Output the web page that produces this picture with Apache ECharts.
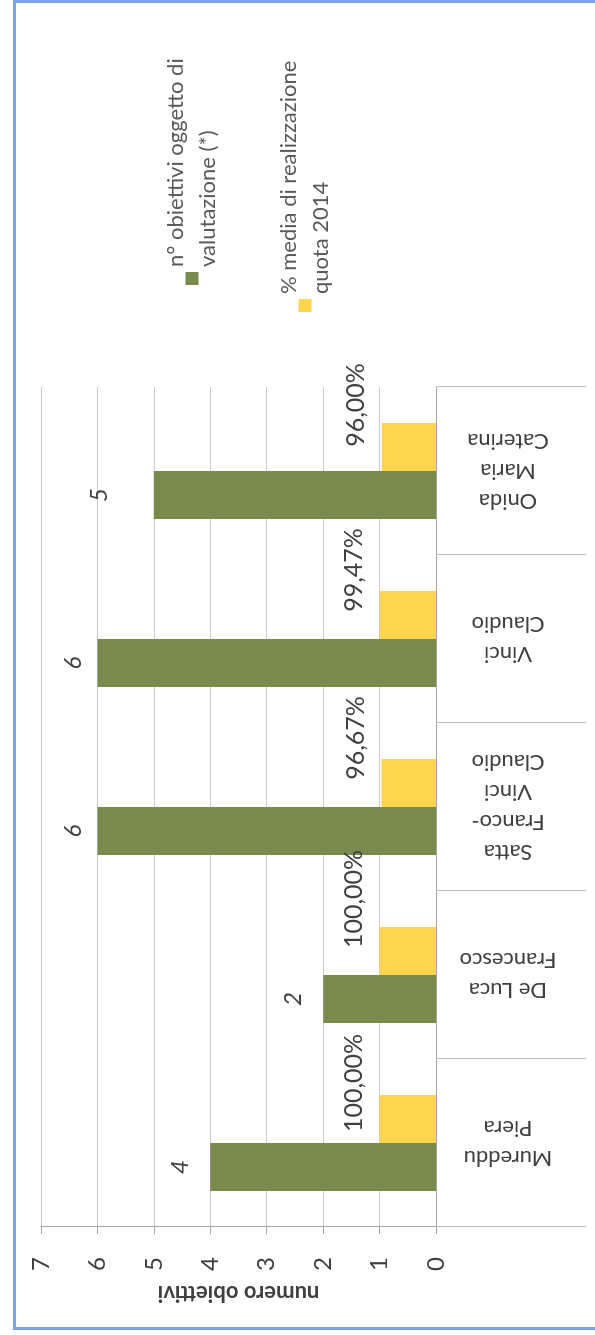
<!DOCTYPE html>
<html>
<head>
<meta charset="utf-8">
<script src="https://cdn.jsdelivr.net/npm/echarts@6/dist/echarts.min.js"></script>
<style>
  html, body { margin: 0; padding: 0; background: #ffffff; }
  body { width: 595px; height: 1335px; position: relative; overflow: hidden; }
  #frame {
    position: absolute; left: 13px; top: 0px; width: 620px; height: 1324px;
    border: 3px solid #7ea2e6; border-right: none; box-sizing: content-box;
  }
  #chart {
    position: absolute; left: 0; top: 0; width: 1335px; height: 595px;
    transform-origin: 0 0; transform: translate(0px, 1335px) rotate(-90deg);
  }
</style>
</head>
<body>
<div id="frame"></div>
<div id="chart"></div>
<script>
// ---- data ----
const categories = ['Mureddu\nPiera', 'De Luca\nFrancesco', 'Satta\nFranco-\nVinci\nClaudio', 'Vinci\nClaudio', 'Onida\nMaria\nCaterina'];
const objectiveCounts = [4, 2, 6, 6, 5];
const realizationPct = [100.00, 100.00, 96.67, 99.47, 96.00];
const seriesNames = ['n° obiettivi oggetto di valutazione (*)', '% media di realizzazione quota 2014'];
const legendLines = {
  'n° obiettivi oggetto di valutazione (*)': 'n° obiettivi oggetto di\nvalutazione (*)',
  '% media di realizzazione quota 2014': '% media di realizzazione\nquota 2014'
};
const axisMin = 0, axisMax = 7, axisStep = 1;
const axisTitle = 'numero obiettivi';

// ---- styles ----
const FONT = 'Lato, "Open Sans", sans-serif';
const GREEN = '#798a4d';
const YELLOW = '#fdd54f';
const TEXT = '#404040';
const greenLabelGap = [18, 18, 12, 12, 43];
const yellowLabelShift = [36, 52, 45, 45, 42];

const chart = echarts.init(document.getElementById('chart'));

function fmtPct(v) {
  return (v * 100).toFixed(2).replace('.', ',') + '%';
}

const option = {
  animation: false,
  backgroundColor: 'transparent',
  textStyle: { fontFamily: FONT },
  grid: { left: 108, right: 387, top: 41, bottom: 159, containLabel: false },
  legend: [
    {
      data: [seriesNames[0]], orient: 'vertical', left: 1045, top: 139,
      itemWidth: 13, itemHeight: 13, icon: 'rect',
      formatter: n => legendLines[n],
      textStyle: { fontFamily: FONT, fontSize: 22, color: '#595959', lineHeight: 32, padding: [32, 0, 0, 0] }
    },
    {
      data: [seriesNames[1]], orient: 'vertical', left: 1018, top: 252,
      itemWidth: 13, itemHeight: 13, icon: 'rect',
      formatter: n => legendLines[n],
      textStyle: { fontFamily: FONT, fontSize: 22, color: '#595959', lineHeight: 32, padding: [32, 0, 0, 0] }
    }
  ],
  xAxis: {
    type: 'category',
    data: categories,
    position: 'bottom',
    axisLine: { show: true, lineStyle: { color: '#a6a6a6', width: 1 } },
    axisTick: { show: true, interval: 0, length: 150, lineStyle: { color: '#bfbfbf', width: 1 } },
    axisLabel: {
      interval: 0, rotate: 90, align: 'center', verticalAlign: 'middle', margin: 72,
      fontFamily: FONT, fontSize: 22, lineHeight: 30, color: TEXT
    },
    splitLine: { show: false }
  },
  yAxis: {
    type: 'value',
    min: axisMin, max: axisMax, interval: axisStep,
    name: axisTitle, nameLocation: 'middle', nameGap: 55, nameRotate: 90,
    nameTextStyle: { fontFamily: FONT, fontSize: 22, fontWeight: 'bold', color: TEXT },
    axisLine: { show: true, lineStyle: { color: '#a6a6a6', width: 1 } },
    axisTick: { show: true, length: 7, lineStyle: { color: '#a6a6a6' } },
    axisLabel: { fontFamily: FONT, fontSize: 24, margin: 30, color: TEXT },
    splitLine: { show: true, lineStyle: { color: '#c9c9c9', width: 1 } }
  },
  series: [
    {
      name: seriesNames[0], type: 'bar', barWidth: 48, barGap: '0%',
      itemStyle: { color: GREEN },
      data: objectiveCounts.map((v, i) => ({
        value: v,
        label: { distance: greenLabelGap[i] }
      })),
      label: {
        show: true, position: 'top', fontFamily: FONT, fontSize: 24, fontStyle: 'italic', color: TEXT
      }
    },
    {
      name: seriesNames[1], type: 'bar', barWidth: 48, barGap: '0%',
      itemStyle: { color: YELLOW },
      data: realizationPct.map((p, i) => ({
        value: p / 100,
        label: { offset: [yellowLabelShift[i], 0] }
      })),
      label: {
        show: true, position: 'top', distance: 13, fontFamily: FONT, fontSize: 25, color: TEXT,
        formatter: p => fmtPct(p.value)
      }
    }
  ]
};
chart.setOption(option);
</script>
</body>
</html>
